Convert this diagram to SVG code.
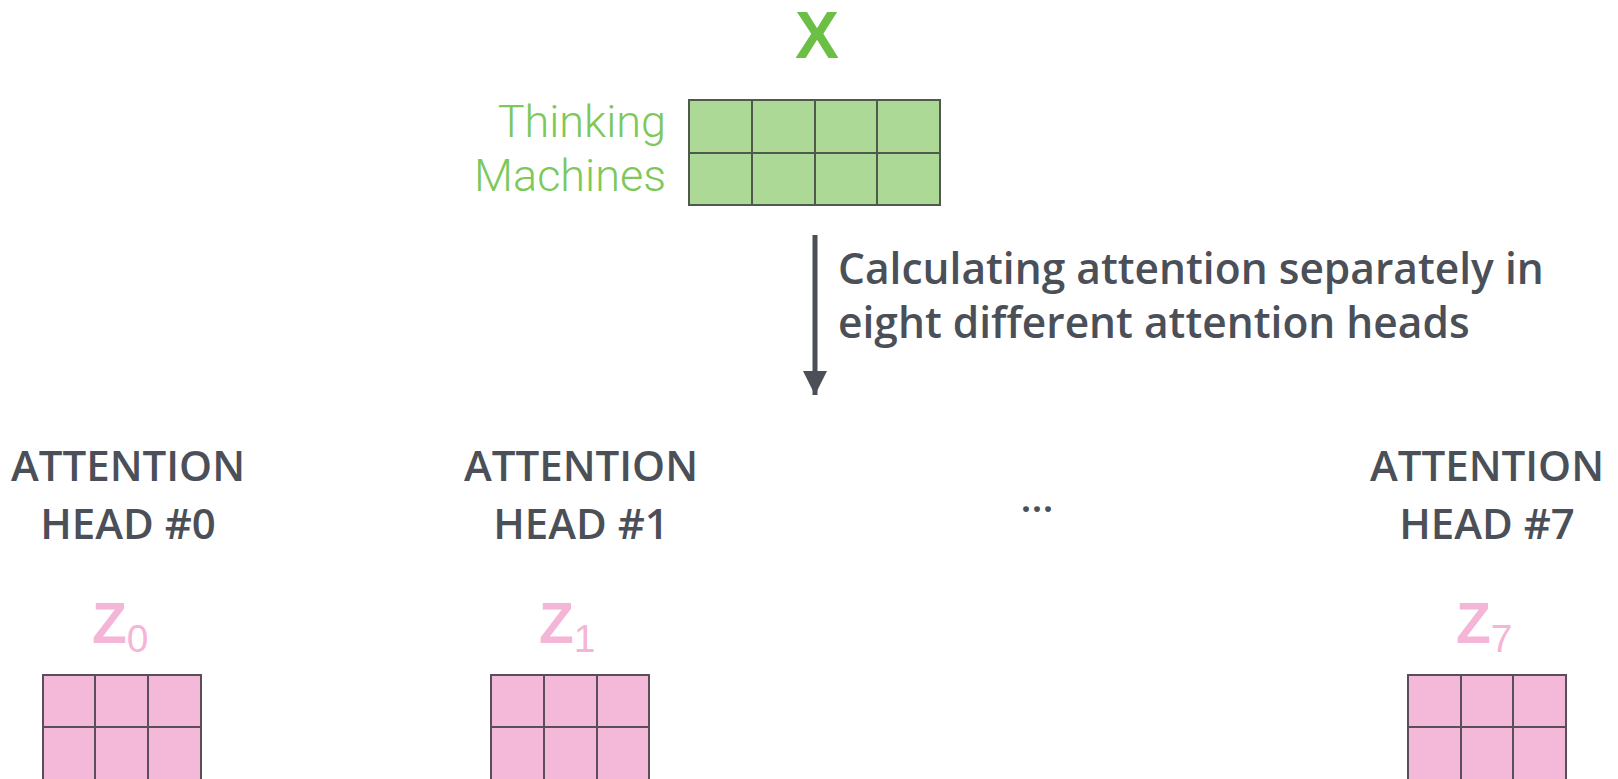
<svg xmlns="http://www.w3.org/2000/svg" width="1618" height="779" viewBox="0 0 1618 779">
<style>
.gx{fill:#acd995;stroke:#4f5a4c;stroke-width:2}
.gz{fill:#f4b8d9;stroke:#5a4f58;stroke-width:2}
.ln{stroke-width:2;fill:none}
.head{font-family:"Open Sans","Liberation Sans",sans-serif;font-weight:600;font-size:42px;fill:#4b4f57;text-anchor:middle}
.note{font-family:"Open Sans","Liberation Sans",sans-serif;font-weight:600;font-size:42.5px;fill:#4b4f57}
.word{font-family:Roboto,"Liberation Sans",sans-serif;font-weight:300;font-size:45px;fill:#7cc85a;text-anchor:end}
.zl{font-family:"Liberation Sans",Arial,sans-serif;font-weight:700;font-size:57px;fill:#f4b6d6}
.zs{font-family:"Liberation Sans",Arial,sans-serif;font-weight:400;font-size:39px;fill:#f4b6d6}
</style>
<defs>
<marker id="ah" viewBox="0 0 10 10" refX="10" refY="5" markerWidth="4.8" markerHeight="5.6" orient="auto" markerUnits="strokeWidth">
<path d="M0,0 L10,5 L0,10 z" fill="#4b4f57"/>
</marker>
</defs>
<rect width="1618" height="779" fill="#ffffff"/>

<g id="input-x">
<text x="817" y="58" font-family="'Liberation Sans',Arial,sans-serif" font-weight="700" font-size="66" fill="#6cbf45" text-anchor="middle">X</text>
<text class="word" x="666" y="137">Thinking</text>
<text class="word" x="666" y="191">Machines</text>
<rect class="gx" x="689" y="100" width="251" height="105"/>
<path class="ln" stroke="#4f5a4c" d="M752,100V205M815,100V205M877,100V205M689,153H940"/>
</g>

<g id="connectors">
<line x1="815" y1="235" x2="815" y2="395" stroke="#4b4f57" stroke-width="5" marker-end="url(#ah)"/>
</g>
<g id="note">
<text class="note" x="838" y="284">Calculating attention separately in</text>
<text class="note" x="838" y="338">eight different attention heads</text>
</g>

<g id="head0">
<text class="head" x="128" y="481">ATTENTION</text>
<text class="head" x="128" y="539">HEAD #0</text>
<text class="zl" x="92" y="643">Z<tspan class="zs" dy="9">0</tspan></text>
<rect class="gz" x="43" y="675" width="158" height="110"/>
<path class="ln" stroke="#5a4f58" d="M95,675V785M148,675V785M43,727H201"/>
</g>

<g id="head1">
<text class="head" x="581" y="481">ATTENTION</text>
<text class="head" x="581" y="539">HEAD #1</text>
<text class="zl" x="539" y="643">Z<tspan class="zs" dy="9">1</tspan></text>
<rect class="gz" x="491" y="675" width="158" height="110"/>
<path class="ln" stroke="#5a4f58" d="M544,675V785M597,675V785M491,727H649"/>
</g>

<g id="ellipsis">
<text x="1037" y="512" font-family="'Open Sans','Liberation Sans',sans-serif" font-weight="600" font-size="40" fill="#4b4f57" text-anchor="middle">...</text>
</g>

<g id="head7">
<text class="head" x="1487" y="481">ATTENTION</text>
<text class="head" x="1487" y="539">HEAD #7</text>
<text class="zl" x="1456" y="643">Z<tspan class="zs" dy="9">7</tspan></text>
<rect class="gz" x="1408" y="675" width="158" height="110"/>
<path class="ln" stroke="#5a4f58" d="M1461,675V785M1513,675V785M1408,727H1566"/>
</g>
</svg>
